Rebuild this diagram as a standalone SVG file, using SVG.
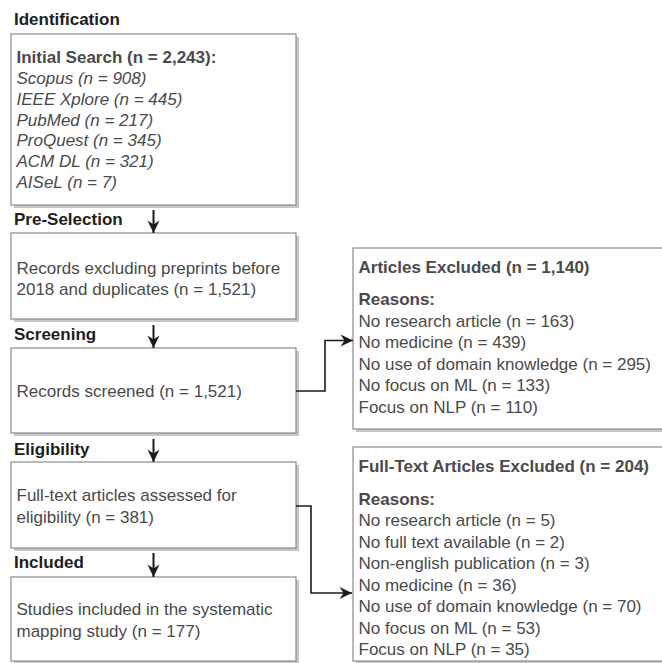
<svg xmlns="http://www.w3.org/2000/svg" width="662" height="663" viewBox="0 0 662 663">
<defs>
<style>
text{font-family:"Liberation Sans",Arial,sans-serif;font-size:17px;fill:#4a4a4a}
.hdr{font-weight:bold;fill:#1e1e1e}
.b{font-weight:bold}
.i{font-style:italic}
.box{fill:#fff;stroke:#8a8a8a;stroke-width:1.2}
.shd{fill:#c6c6c6}
.con{fill:none;stroke:#1a1a1a;stroke-width:1.6}
.vcon{fill:none;stroke:#1a1a1a;stroke-width:2}
</style>
<marker id="ah" viewBox="-13 -7 14 14" refX="0" refY="0" markerWidth="14" markerHeight="14" markerUnits="userSpaceOnUse" orient="auto">
<path d="M0,0 L-12.5,-6 L-8.5,0 L-12.5,6 Z" fill="#1a1a1a"/>
</marker>
</defs>
<rect width="662" height="663" fill="#fff"/>

<g id="labels">
<text class="hdr" x="14" y="25">Identification</text>
<text class="hdr" x="14" y="225">Pre-Selection</text>
<text class="hdr" x="14" y="339.5">Screening</text>
<text class="hdr" x="14" y="454.5">Eligibility</text>
<text class="hdr" x="14" y="568">Included</text>
</g>

<g id="identification">
<rect class="shd" x="14" y="37" width="285" height="171"/>
<rect class="box" x="11" y="34" width="285" height="171"/>
<text class="b" x="16.5" y="63">Initial Search (n = 2,243):</text>
<text class="i" x="16.5" y="84">Scopus (n = 908)</text>
<text class="i" x="16.5" y="104.8">IEEE Xplore (n = 445)</text>
<text class="i" x="16.5" y="125.6">PubMed (n = 217)</text>
<text class="i" x="16.5" y="146.4">ProQuest (n = 345)</text>
<text class="i" x="16.5" y="167.2">ACM DL (n = 321)</text>
<text class="i" x="16.5" y="188">AISeL (n = 7)</text>
</g>

<g id="preselection">
<rect class="shd" x="14" y="236" width="285" height="86"/>
<rect class="box" x="11" y="233" width="285" height="86"/>
<text x="16.5" y="273.5">Records excluding preprints before</text>
<text x="16.5" y="295">2018 and duplicates (n = 1,521)</text>
</g>

<g id="screening">
<rect class="shd" x="14" y="351" width="285" height="85"/>
<rect class="box" x="11" y="348" width="285" height="85"/>
<text x="16.5" y="396.5">Records screened (n = 1,521)</text>
</g>

<g id="eligibility">
<rect class="shd" x="14" y="465" width="285" height="86"/>
<rect class="box" x="11" y="462" width="285" height="86"/>
<text x="16.5" y="500.5">Full-text articles assessed for</text>
<text x="16.5" y="522.5">eligibility (n = 381)</text>
</g>

<g id="included">
<rect class="shd" x="14" y="580" width="285" height="84"/>
<rect class="box" x="11" y="577" width="285" height="84"/>
<text x="16.5" y="614.5">Studies included in the systematic</text>
<text x="16.5" y="636.5">mapping study (n = 177)</text>
</g>

<g id="excluded1">
<rect class="shd" x="356" y="251" width="320" height="181"/>
<rect class="box" x="353" y="248" width="320" height="181"/>
<text class="b" x="358.5" y="272.5">Articles Excluded (n = 1,140)</text>
<text class="b" x="358.5" y="305">Reasons:</text>
<text x="358.5" y="326.7">No research article (n = 163)</text>
<text x="358.5" y="348">No medicine (n = 439)</text>
<text x="358.5" y="369.5">No use of domain knowledge (n = 295)</text>
<text x="358.5" y="391">No focus on ML (n = 133)</text>
<text x="358.5" y="412.5">Focus on NLP (n = 110)</text>
</g>

<g id="excluded2">
<rect class="shd" x="356" y="450" width="320" height="214"/>
<rect class="box" x="353" y="447" width="320" height="214"/>
<text class="b" x="358.5" y="471.7">Full-Text Articles Excluded (n = 204)</text>
<text class="b" x="358.5" y="505">Reasons:</text>
<text x="358.5" y="526">No research article (n = 5)</text>
<text x="358.5" y="547.5">No full text available (n = 2)</text>
<text x="358.5" y="569">Non-english publication (n = 3)</text>
<text x="358.5" y="590.5">No medicine (n = 36)</text>
<text x="358.5" y="612">No use of domain knowledge (n = 70)</text>
<text x="358.5" y="633.5">No focus on ML (n = 53)</text>
<text x="358.5" y="655">Focus on NLP (n = 35)</text>
</g>

<g id="connectors">
<path class="vcon" d="M153.5,210 V233" marker-end="url(#ah)"/>
<path class="vcon" d="M153.5,325 V348" marker-end="url(#ah)"/>
<path class="vcon" d="M153.5,439 V462" marker-end="url(#ah)"/>
<path class="vcon" d="M153.5,553 V577" marker-end="url(#ah)"/>
<path class="con" d="M296,391 H325 V340.5 H353" marker-end="url(#ah)"/>
<path class="con" d="M296,506 H311 V593 H352" marker-end="url(#ah)"/>
</g>
</svg>
